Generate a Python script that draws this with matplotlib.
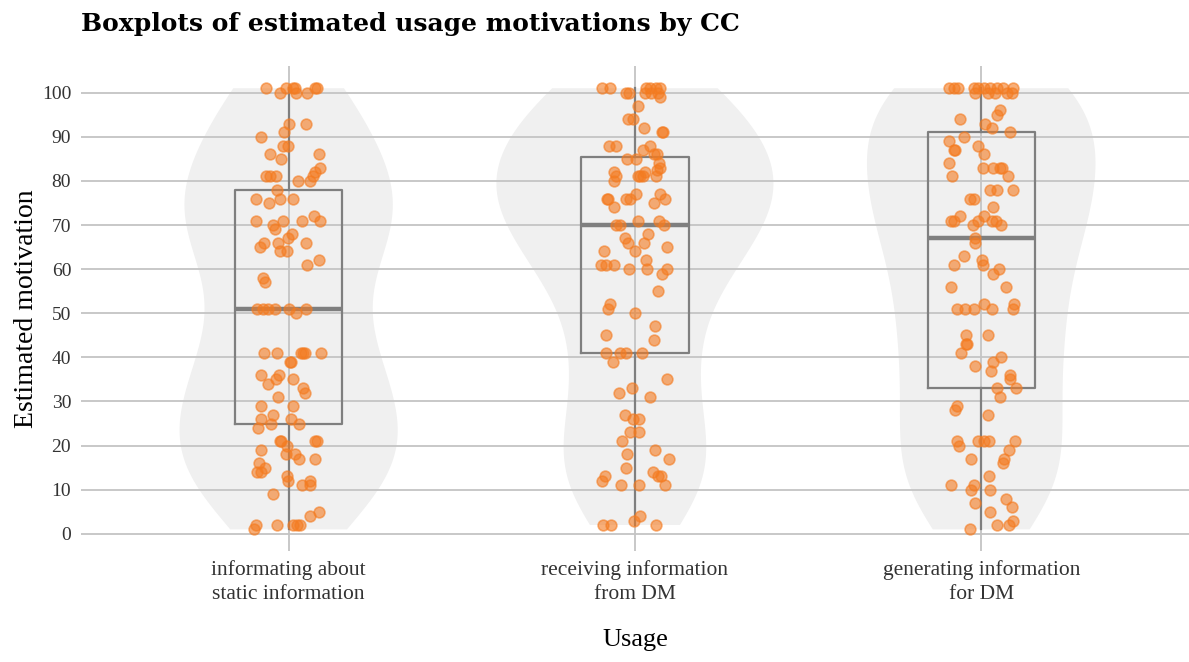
import numpy as np
import matplotlib
matplotlib.use("Agg")
import matplotlib.pyplot as plt

plt.rcParams['font.family'] = ['Liberation Serif', 'DejaVu Serif']

categories = ["informating about\nstatic information",
              "receiving information\nfrom DM",
              "generating information\nfor DM"]

# estimated motivation values (with their jitter offsets)
static_vals = [101, 100, 101, 101, 100, 101, 100, 101, 101, 93, 93, 91, 90, 88, 88,
               86, 86, 85, 83, 82, 81, 81, 81, 81, 80, 80, 78, 76, 75, 76, 76,
               71, 70, 69, 71, 71, 72, 71, 68, 67, 66, 66, 66, 65, 64, 64, 62, 61,
               58, 57, 51, 51, 51, 51, 51, 51, 50, 41, 41, 41, 41, 41, 41, 39, 39,
               36, 36, 35, 34, 35, 33, 32, 31, 29, 29, 26, 27, 25, 26, 25, 24,
               21, 21, 21, 21, 20, 19, 18, 18, 17, 17, 16, 15, 14, 14, 13, 12,
               12, 11, 11, 9, 5, 4, 2, 1, 2, 2, 2, 2]
static_jit = [-0.064, -0.026, -0.009, 0.013, 0.020, 0.017, 0.053, 0.075, 0.082, 0.001,
              0.049, -0.012, -0.079, -0.016, -0.002, -0.055, 0.089, -0.021, 0.091,
              0.075, 0.070, -0.066, -0.055, -0.036, 0.027, 0.061, -0.033, -0.093,
              -0.057, -0.026, 0.013, -0.095, -0.045, -0.038, -0.016, 0.039, 0.073,
              0.092, 0.011, -0.002, -0.030, 0.051, -0.071, -0.082, -0.024, -0.005,
              0.089, 0.053, -0.075, -0.069, -0.091, -0.074, -0.060, -0.040, 0.001,
              0.049, 0.020, -0.072, -0.034, 0.037, 0.041, 0.046, 0.094, 0.003,
              0.006, -0.079, -0.028, -0.036, -0.060, 0.013, 0.041, 0.048, -0.031,
              -0.080, 0.013, -0.081, -0.045, -0.050, 0.008, 0.030, -0.088, -0.024,
              -0.021, 0.075, 0.082, -0.005, -0.080, -0.007, 0.017, 0.030, 0.077,
              -0.085, -0.069, -0.091, -0.081, -0.005, -0.002, 0.063, 0.038, 0.063,
              -0.045, 0.089, 0.063, -0.093, -0.101, -0.033, 0.013, 0.024, 0.034]

receiving_vals = [101, 101, 100, 100, 101, 101, 101, 101, 100, 100, 100, 99, 97, 94, 94,
                  92, 91, 91, 88, 88, 88, 87, 86, 86, 85, 85, 84, 83, 82.5, 82, 81,
                  80, 82, 81, 81, 81, 81, 76, 76, 76, 76, 77, 77, 76, 74, 75, 70,
                  70, 71, 71, 70, 68, 67, 66, 66, 65, 64, 64, 62, 61, 61, 61, 60,
                  60, 60, 59, 55, 52, 51, 50, 47, 45, 44, 41, 41, 41, 41, 39, 35,
                  33, 32, 31, 27, 26, 26, 23, 23, 21, 19, 18, 17, 15, 14, 13, 13,
                  13, 12, 11, 11, 11, 4, 3, 2, 2, 2]
receiving_jit = [-0.094, -0.073, -0.025, -0.017, 0.033, 0.044, 0.060, 0.073, 0.028,
                 0.047, 0.066, 0.071, 0.009, -0.020, -0.006, 0.025, 0.081, 0.078,
                 -0.075, -0.056, 0.044, 0.023, 0.054, 0.064, -0.023, 0.002, 0.069,
                 0.071, 0.063, -0.059, -0.056, -0.059, 0.028, 0.009, 0.023, 0.060,
                 0.016, -0.080, -0.078, -0.025, -0.015, 0.002, 0.073, 0.086, -0.059,
                 0.054, -0.054, -0.044, 0.009, 0.069, 0.083, 0.038, -0.030, -0.020,
                 0.025, 0.092, -0.088, -0.001, 0.031, -0.097, -0.083, -0.059, -0.017,
                 0.035, 0.092, 0.079, 0.068, -0.073, -0.078, -0.001, 0.057, -0.083,
                 0.055, -0.083, -0.042, -0.027, 0.021, -0.063, 0.092, -0.009, -0.047,
                 0.044, -0.029, -0.006, 0.012, -0.013, 0.012, -0.038, 0.057, -0.022,
                 0.098, -0.026, 0.052, 0.066, 0.074, -0.085, -0.096, -0.041, 0.013,
                 0.088, 0.016, -0.004, -0.092, -0.068, 0.062]

generating_vals = [101, 101, 101, 101, 101, 101, 101, 101, 101, 101, 100, 100, 100, 100,
                   100, 96, 95, 94, 93, 92, 91, 90, 89, 88, 87, 87, 86, 84, 83, 83,
                   83, 83, 81, 81, 78, 78, 78, 76, 76, 74, 72, 71, 71, 72, 71, 71,
                   71, 70, 70, 67, 66, 63, 61, 62, 61, 60, 59, 56, 56, 51, 51, 51,
                   52, 51, 51, 52, 45, 45, 43, 43, 41, 40, 39, 38, 37, 36, 35, 33,
                   33, 31, 29, 28, 27, 21, 20, 21, 21, 21, 21, 19, 17, 17, 16, 13,
                   11, 11, 10, 10, 8, 7, 6, 5, 3, 2, 2, 1]
generating_jit = [-0.094, -0.080, -0.066, -0.022, -0.008, 0.007, 0.026, 0.045, 0.064,
                  0.093, -0.017, 0.021, 0.040, 0.074, 0.089, 0.055, 0.045, -0.061,
                  0.012, 0.031, 0.082, -0.051, -0.094, -0.008, -0.080, -0.075, 0.007,
                  -0.094, 0.004, 0.033, 0.055, 0.060, -0.085, 0.077, 0.024, 0.045,
                  0.093, -0.032, -0.022, 0.033, -0.061, -0.087, -0.079, 0.007, -0.008,
                  0.031, 0.042, -0.025, 0.058, -0.017, -0.017, -0.051, -0.080, 0.002,
                  0.004, 0.050, 0.034, -0.087, 0.071, -0.070, -0.046, -0.022, 0.007,
                  0.031, 0.091, 0.096, -0.044, 0.021, -0.044, -0.041, -0.059, 0.058,
                  0.034, -0.019, 0.029, 0.082, 0.082, 0.047, 0.100, 0.055, -0.070,
                  -0.077, 0.021, -0.070, -0.065, -0.008, 0.007, 0.023, 0.098, 0.079,
                  -0.029, 0.067, 0.064, 0.023, -0.087, -0.022, -0.029, 0.026, 0.071,
                  -0.017, 0.088, 0.026, 0.093, 0.045, 0.079, -0.032]

# boxplot statistics as shown in the reference
q1 = [25, 41, 33]
medians = [51, 70, 67]
q3 = [78, 85.5, 91]
whisk_lo = [1, 2, 1]
whisk_hi = [101, 101, 101]

values = [static_vals, receiving_vals, generating_vals]
jitters = [static_jit, receiving_jit, generating_jit]
positions = [1, 2, 3]

fig = plt.figure(figsize=(11.89, 6.62), dpi=100)
ax = fig.add_axes([0.068, 0.167, 0.932, 0.733])

ax.grid(True, color='#c4c4c4', linewidth=1.3)
ax.set_axisbelow(True)

vp = ax.violinplot(values, positions=positions, widths=[0.63, 0.80, 0.66],
                   showextrema=False)
for body in vp['bodies']:
    body.set_facecolor('#f0f0f0')
    body.set_edgecolor('none')
    body.set_alpha(1)
    body.set_zorder(0.2)

stats = []
for i in range(3):
    stats.append({'q1': q1[i], 'med': medians[i], 'q3': q3[i],
                  'whislo': whisk_lo[i], 'whishi': whisk_hi[i], 'fliers': []})
ax.bxp(stats, positions=positions, widths=0.31, showcaps=False, showfliers=False,
       boxprops=dict(color='#7f7f7f', linewidth=1.6),
       whiskerprops=dict(color='#7f7f7f', linewidth=1.6),
       medianprops=dict(color='#7f7f7f', linewidth=3.2),
       zorder=2)

orange = '#f47b20'
for i in range(3):
    xs = positions[i] + np.array(jitters[i])
    ax.scatter(xs, values[i], s=60, facecolor=orange, edgecolor=orange,
               alpha=0.6, linewidth=1.2, zorder=3)

ax.set_xlim(0.4, 3.6)
ax.set_ylim(-4, 106)
ax.set_yticks(range(0, 101, 10))
ax.set_xticks(positions)
ax.set_xticklabels(categories, linespacing=1.35)
ax.tick_params(axis='y', length=0, labelsize=14, colors='#333333', pad=7)
ax.tick_params(axis='x', length=0, labelsize=15.5, colors='#333333', pad=6)
for s in ax.spines.values():
    s.set_visible(False)

ax.set_xlabel('Usage', fontsize=19, labelpad=18)
ax.set_ylabel('Estimated motivation', fontsize=20, labelpad=2)
fig.text(0.068, 0.963, 'Boxplots of estimated usage motivations by CC',
         fontsize=18, fontweight='bold', va='center', ha='left',
         family=['DejaVu Serif'])

fig.savefig('out.png', dpi=100)
